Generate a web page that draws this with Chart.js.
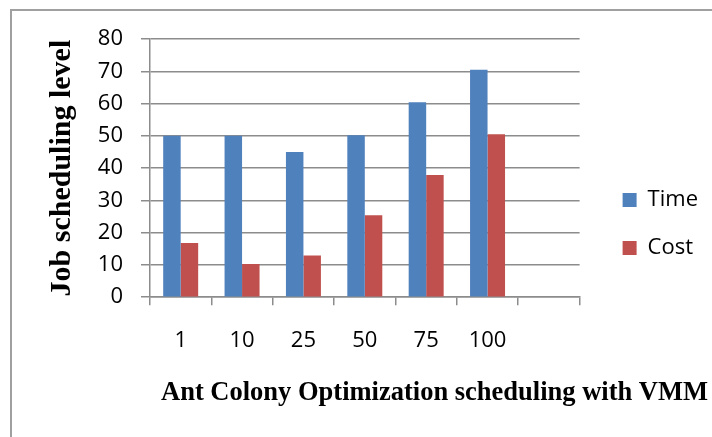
<!DOCTYPE html>
<html>
<head>
<meta charset="utf-8">
<script src="https://cdn.jsdelivr.net/npm/chart.js@4"></script>
<style>
    body { margin: 0; background: #fff; }
    canvas { display: block; }
</style>
</head>
<body>
<canvas id="chart" width="712" height="437"></canvas>
<script>
"use strict";

// data
const categories = ["1", "10", "25", "50", "75", "100", ""];
const timeValues = [50, 50, 45, 50.2, 60.4, 70.5, null];
const costValues = [16.8, 10.3, 12.9, 25.4, 37.9, 50.5, null];
const seriesNames = ["Time", "Cost"];
const yTicks = [0, 10, 20, 30, 40, 50, 60, 70, 80];

const xTitle = "Ant Colony Optimization scheduling with VMM";
const yTitle = "Job scheduling level";

const GRID = "#8c8c8c";
const SANS = "'Open Sans', 'Liberation Sans', sans-serif";
const SERIF = "'Liberation Serif', 'DejaVu Serif', serif";

// white page plus the thin frame along the top and left edge
const framePlugin = {
    id: "frame",
    beforeDraw(chart) {
        const ctx = chart.ctx;
        ctx.save();
        ctx.fillStyle = "#fff";
        ctx.fillRect(0, 0, chart.width, chart.height);
        ctx.strokeStyle = "#a0a0a0";
        ctx.lineWidth = 2;
        ctx.beginPath();
        ctx.moveTo(11, chart.height);
        ctx.lineTo(11, 10);
        ctx.lineTo(chart.width, 10);
        ctx.stroke();
        ctx.restore();
    }
};

const chart = new Chart(document.getElementById("chart"), {
    type: "bar",
    data: {
        labels: categories,
        datasets: [
            {
                label: seriesNames[0],
                data: timeValues,
                backgroundColor: "#4f81bd",
                categoryPercentage: 0.57,
                barPercentage: 1.0
            },
            {
                label: seriesNames[1],
                data: costValues,
                backgroundColor: "#c0504d",
                categoryPercentage: 0.57,
                barPercentage: 1.0
            }
        ]
    },
    options: {
        responsive: false,
        animation: false,
        devicePixelRatio: 1,
        layout: { padding: { top: 39, left: 20, right: 4, bottom: 28 } },
        plugins: {
            tooltip: { enabled: false },
            legend: {
                position: "right",
                align: "center",
                labels: {
                    boxWidth: 14,
                    boxHeight: 14,
                    padding: 26,
                    color: "#000",
                    font: { family: SANS, size: 22 }
                }
            },
            title: {
                display: true,
                position: "bottom",
                align: "end",
                text: xTitle,
                color: "#000",
                padding: 0,
                font: { family: SERIF, size: 26.5, weight: "bold", lineHeight: 1.2 }
            }
        },
        scales: {
            x: {
                grid: {
                    display: true,
                    drawOnChartArea: false,
                    drawTicks: true,
                    tickLength: 8,
                    color: GRID,
                    lineWidth: 1.5
                },
                border: { display: true, color: GRID, width: 1.5 },
                ticks: {
                    color: "#000",
                    padding: 22,
                    maxRotation: 0,
                    font: { family: SANS, size: 22 }
                },
                afterFit: s => { s.height = 80; }
            },
            y: {
                min: 0,
                max: 80,
                afterBuildTicks: s => { s.ticks = yTicks.map(v => ({ value: v })); },
                grid: {
                    color: GRID,
                    lineWidth: 1.5,
                    drawTicks: true,
                    tickLength: 9
                },
                border: { display: true, color: GRID, width: 1.5 },
                ticks: {
                    color: "#000",
                    padding: 18,
                    font: { family: SANS, size: 22 }
                },
                title: {
                    display: true,
                    text: yTitle,
                    color: "#000",
                    padding: { top: 24, bottom: 0 },
                    font: { family: SERIF, size: 30, weight: "bold", lineHeight: 1.2 }
                },
                afterFit: s => { s.width = 130; }
            },
            // empty axis that only keeps the gap between plot and legend
            gap: {
                type: "linear",
                position: "right",
                display: true,
                grid: { display: false },
                border: { display: false },
                ticks: { display: false },
                afterFit: s => { s.width = 17; }
            }
        }
    },
    plugins: [framePlugin]
});
</script>
</body>
</html>
